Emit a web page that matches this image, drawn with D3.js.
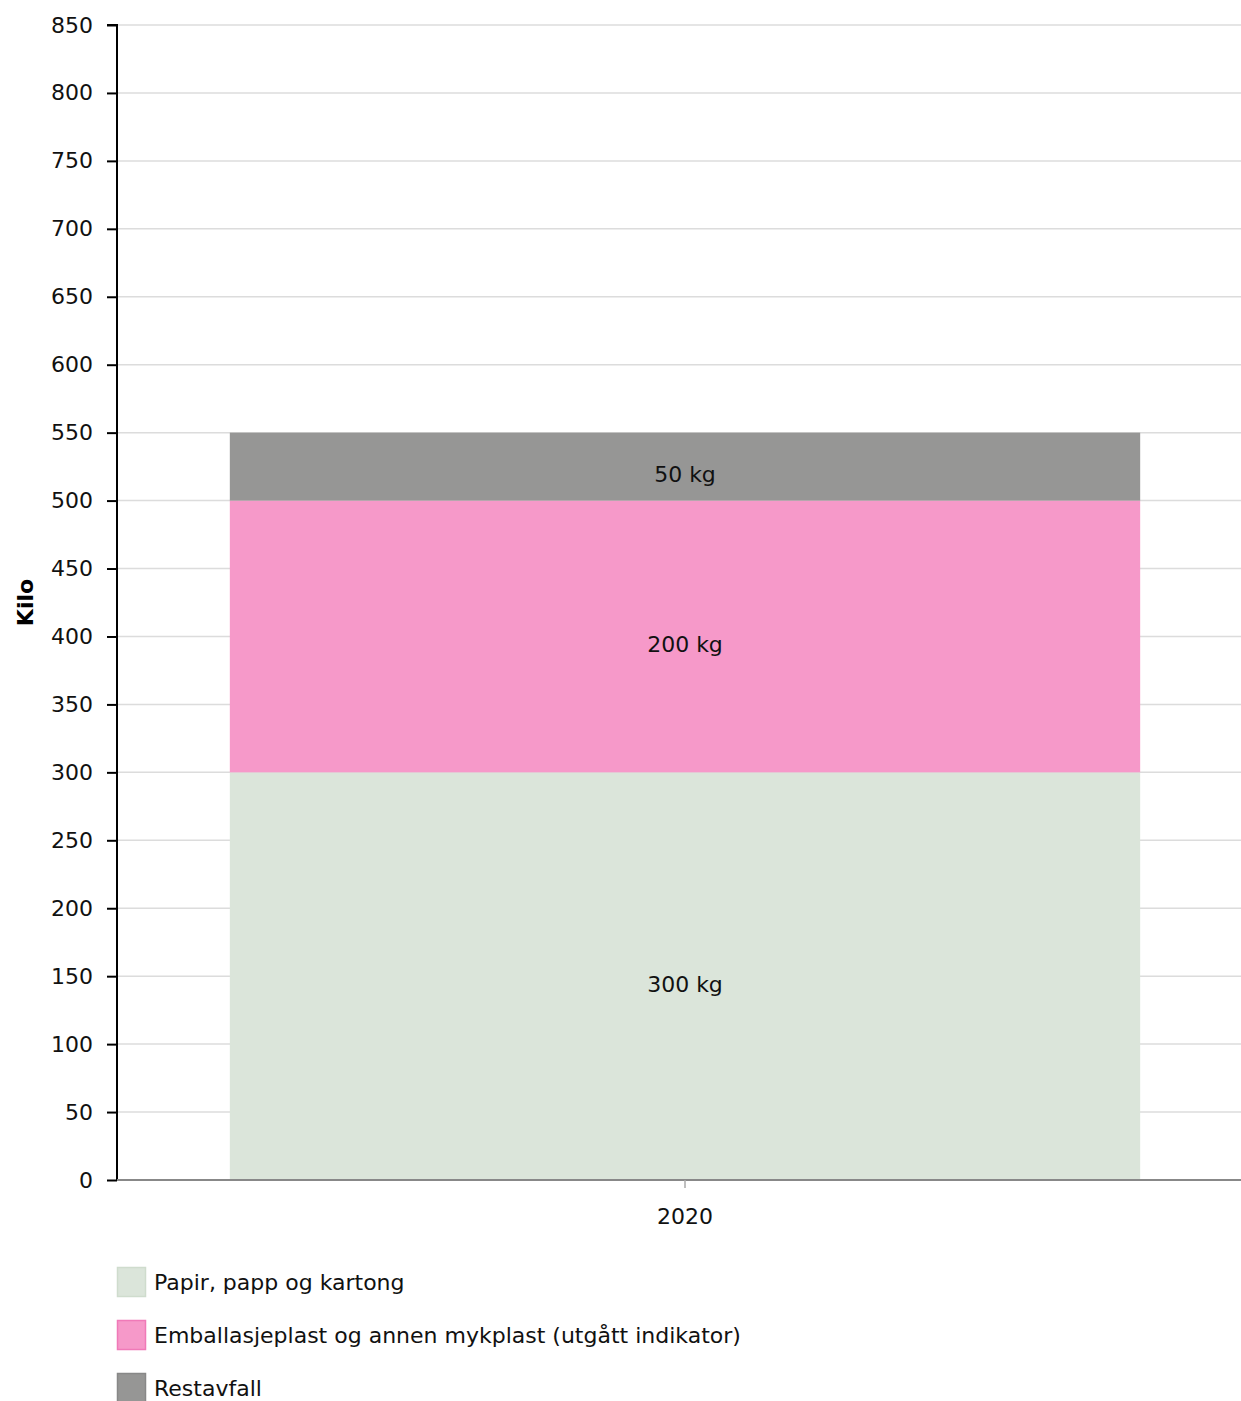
<!DOCTYPE html>
<html><head><meta charset="utf-8">
<script src="https://cdn.jsdelivr.net/npm/d3@7"></script>
<style>body{margin:0;background:#fff}svg{display:block}text{font-family:"DejaVu Sans",Verdana,sans-serif}</style>
</head><body>
<script>
const categories = ["2020"];
const seriesNames = ["Papir, papp og kartong", "Emballasjeplast og annen mykplast (utgått indikator)", "Restavfall"];
const seriesColors = ["#dbe5da", "#f699c9", "#969695"];
const legendBorders = ["#cfdccd", "#f07ab8", "#888888"];
const papir = [300];
const plast = [200];
const rest = [50];
const yTicks = [0,50,100,150,200,250,300,350,400,450,500,550,600,650,700,750,800,850];
const yLabel = "Kilo";
const unit = "kg";

const W = 1241, H = 1401;
const FS = 22;
const svg = d3.select("body").append("svg").attr("width", W).attr("height", H);
const m = {left:117, top:25, bottom:1180};
const y = d3.scaleLinear().domain([0,850]).range([m.bottom, m.top]);
const x = d3.scaleBand().domain(categories).range([115, 1255]).padding(0.112);

// grid
svg.append("g").selectAll("line").data(yTicks.filter(d=>d>0)).join("line")
  .attr("x1", 117).attr("x2", W).attr("y1", d=>y(d)).attr("y2", d=>y(d))
  .attr("stroke", "#dcdcdc").attr("stroke-width", 1.5);

const data = categories.map((c,i)=>({cat:c, vals:[papir[i], plast[i], rest[i]]}));
const segs = [];
data.forEach(d=>{ let acc=0; d.vals.forEach((v,k)=>{ segs.push({cat:d.cat,k,y0:acc,y1:acc+v,v}); acc+=v; }); });

svg.append("g").selectAll("rect").data(segs).join("rect")
  .attr("x", d=>x(d.cat)).attr("width", x.bandwidth())
  .attr("y", d=>y(d.y1)).attr("height", d=>y(d.y0)-y(d.y1))
  .attr("fill", d=>seriesColors[d.k]);

svg.append("g").selectAll("text").data(segs).join("text")
  .attr("x", d=>x(d.cat)+x.bandwidth()/2).attr("y", d=>(y(d.y0)+y(d.y1))/2 + 8)
  .attr("text-anchor","middle").attr("dominant-baseline","central")
  .attr("font-size", FS).attr("fill","#111").text(d=>d.v+" "+unit);

// y axis
const ya = svg.append("g").attr("transform", `translate(117,0)`)
  .call(d3.axisLeft(y).tickValues(yTicks).tickSize(10).tickPadding(14).tickFormat(d3.format("d")));
ya.select(".domain").attr("stroke","#000").attr("stroke-width",2).attr("d", `M-10,${y(850)}H0V${y(0)}`);
ya.selectAll(".tick line").attr("stroke","#000").attr("stroke-width",2);
ya.selectAll(".tick text").attr("font-size",FS).attr("fill","#111").attr("font-family",'"DejaVu Sans",Verdana,sans-serif');

// x axis
const xa = svg.append("g").attr("transform", `translate(0,${m.bottom})`)
  .call(d3.axisBottom(x).tickSize(8).tickPadding(20));
xa.select(".domain").attr("stroke","#888").attr("stroke-width",2).attr("d", `M117,0H${W}`);
xa.selectAll(".tick line").attr("stroke","#aaa").attr("stroke-width",1.5);
xa.selectAll(".tick text").attr("font-size",FS).attr("fill","#111").attr("font-family",'"DejaVu Sans",Verdana,sans-serif');

// y label
svg.append("text").attr("transform", `translate(33,${(y(0)+y(850))/2}) rotate(-90)`)
  .attr("text-anchor","middle").attr("font-size",FS).attr("font-weight","bold").text(yLabel);

// legend
const lg = svg.append("g").selectAll("g").data(seriesNames).join("g")
  .attr("transform", (d,i)=>`translate(117,${1267 + i*53})`);
lg.append("rect").attr("width",28).attr("height",29).attr("x",0.5).attr("y",0.5)
  .attr("fill",(d,i)=>seriesColors[i]).attr("stroke",(d,i)=>legendBorders[i]).attr("stroke-width",1.5);
lg.append("text").attr("x",37).attr("y",15).attr("dominant-baseline","central")
  .attr("font-size",FS).attr("fill","#111").text(d=>d);
</script>
</body></html>
